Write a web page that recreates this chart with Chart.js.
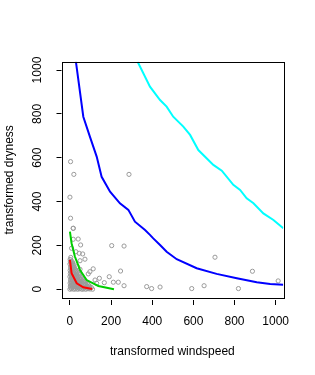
<!DOCTYPE html>
<html>
<head>
<meta charset="utf-8">
<script src="https://cdn.jsdelivr.net/npm/chart.js@4"></script>
<style>
  html, body { margin: 0; padding: 0; background: #fff; }
  #wrap { width: 315px; height: 375px; }
</style>
</head>
<body>
<div id="wrap"><canvas id="myChart" width="315" height="375"></canvas></div>
<script>
var xTicks = [0, 200, 400, 600, 800, 1000];
var yTicks = [0, 200, 400, 600, 800, 1000];

// scattered observations
var outX = [3, 19, 0, 3, 16, 287, 203, 263, 246, 263, 373, 397, 438, 592, 652, 705, 819, 887, 1012,
            16, 40, 52, 29, 45, 62, 49, 73, 113, 97, 89, 143, 191, 211, 235, 167, 122, 130, 16, 8, 36, 49];
var outY = [582, 524, 420, 324, 278, 524, 199, 197, 83, 16, 12, 3, 10, 3, 16, 146, 3, 82, 38,
            278, 229, 202, 171, 164, 161, 130, 137, 93, 80, 70, 50, 57, 32, 32, 30, 42, 27, 228, 187, 103, 91];

// dense cloud near the origin
var cloudX = [0, 8, 18, 27, 38, 47, 58, 66, 77, 88, 98, 110,
              2, 11, 20, 30, 41, 52, 61, 72, 83, 95,
              1, 9, 19, 28, 39, 48, 59, 70, 84,
              3, 12, 22, 31, 42, 53, 64,
              0, 10, 20, 29, 40, 50,
              2, 11, 21, 32, 44,
              1, 9, 19, 28,
              3, 12, 22,
              0, 8, 16,
              2, 10,
              4];
var cloudY = [0, 2, 0, 1, 0, 2, 0, 1, 0, 2, 1, 0,
              14, 15, 13, 14, 15, 13, 14, 15, 13, 14,
              28, 29, 27, 28, 29, 27, 28, 29, 27,
              43, 42, 44, 43, 42, 44, 43,
              57, 58, 56, 57, 58, 56,
              72, 71, 73, 72, 71,
              86, 87, 85, 86,
              100, 101, 99,
              115, 114, 116,
              128, 127,
              145];
var cloud2X = [4, 13, 23, 33, 43, 52, 62, 71, 82, 93, 104,
               6, 15, 25, 35, 46, 56, 66, 77, 89,
               5, 14, 24, 34, 44, 54, 65, 76,
               7, 16, 26, 36, 47, 58,
               5, 15, 25, 35, 46,
               6, 16, 26, 37,
               5, 14, 24,
               6, 16,
               4, 13,
               1];
var cloud2Y = [7, 8, 6, 7, 8, 6, 7, 8, 6, 7, 8,
               21, 22, 20, 21, 22, 20, 21, 22, 20,
               35, 36, 34, 35, 36, 34, 35, 36,
               50, 49, 51, 50, 49, 51,
               64, 65, 63, 64, 65,
               79, 78, 80, 79,
               93, 94, 92,
               107, 108,
               121, 120,
               136];

var blueX = [29, 65, 97, 130, 154, 195, 243, 284, 316, 365, 389, 405, 438, 470, 519, 616, 713, 811, 908, 973, 1037];
var blueY = [1038, 787, 696, 605, 513, 445, 392, 362, 308, 270, 248, 232, 202, 171, 137, 96, 70, 50, 32, 24, 20];

var cyanX = [329, 389, 438, 470, 502, 551, 584, 624, 697, 738, 794, 827, 859, 892, 940, 989, 1037];
var cyanY = [1038, 924, 863, 833, 787, 742, 704, 635, 567, 541, 476, 453, 415, 392, 346, 316, 278];

var redX = [0, 8, 33, 65, 108];
var redY = [134, 73, 27, 9, 1];

var greenX = [0, 8, 24, 49, 81, 138, 214];
var greenY = [263, 210, 149, 88, 42, 15, 0];

function pts(xs, ys) {
    return xs.map(function (x, i) { return { x: x, y: ys[i] }; });
}

function curve(xs, ys, color) {
    return {
        data: pts(xs, ys),
        showLine: true,
        borderColor: color,
        borderWidth: 2,
        pointRadius: 0,
        tension: 0,
        order: 1
    };
}

var boxPlugin = {
    id: 'box',
    afterDatasetsDraw: function (chart) {
        var a = chart.chartArea;
        var c = chart.ctx;
        c.save();
        c.strokeStyle = '#000';
        c.lineWidth = 1;
        c.strokeRect(Math.round(a.left) + 0.5, Math.round(a.top) + 0.5,
            Math.round(a.right - a.left), Math.round(a.bottom - a.top));
        c.restore();
    }
};

var font = { family: "'Liberation Sans', Arial, sans-serif", size: 12 };
var plain = function (v) { return String(v); };

var ctx = document.getElementById('myChart').getContext('2d');
var myChart = new Chart(ctx, {
    type: 'scatter',
    data: {
        datasets: [
            curve(blueX, blueY, '#0000ff'),
            curve(cyanX, cyanY, '#00ffff'),
            curve(redX, redY, '#ff0000'),
            curve(greenX, greenY, '#00cd00'),
            {
                data: pts(cloudX.concat(cloud2X, outX), cloudY.concat(cloud2Y, outY)),
                pointStyle: 'circle',
                pointRadius: 2.1,
                borderWidth: 1,
                borderColor: '#9a9a9a',
                backgroundColor: 'rgba(0,0,0,0)',
                order: 2
            }
        ]
    },
    options: {
        responsive: false,
        animation: false,
        events: [],
        layout: { padding: { left: 0, right: 31.7, top: 61.7, bottom: 0 } },
        plugins: { legend: { display: false }, tooltip: { enabled: false } },
        scales: {
            x: {
                type: 'linear',
                min: -41,
                max: 1037,
                border: { display: false },
                grid: {
                    drawOnChartArea: false,
                    tickLength: 7,
                    tickColor: '#000',
                    tickWidth: 1,
                    tickBorderDash: [5, 100],
                    tickBorderDashOffset: 103
                },
                afterBuildTicks: function (s) { s.ticks = xTicks.map(function (v) { return { value: v }; }); },
                afterFit: function (s) { s.height = 77; },
                ticks: { color: '#000', font: font, padding: 9, maxRotation: 0, callback: plain },
                title: { display: true, text: 'transformed windspeed', color: '#000', font: font, padding: { top: 0, bottom: 16 } }
            },
            y: {
                type: 'linear',
                min: -40,
                max: 1038,
                border: { display: false },
                grid: {
                    drawOnChartArea: false,
                    tickLength: 7,
                    tickColor: '#000',
                    tickWidth: 1,
                    tickBorderDash: [5, 100],
                    tickBorderDashOffset: 103
                },
                afterBuildTicks: function (s) { s.ticks = yTicks.map(function (v) { return { value: v }; }); },
                afterFit: function (s) { s.width = 61.5; },
                ticks: { color: '#000', font: font, padding: 3, minRotation: 90, maxRotation: 90, crossAlign: 'center', callback: plain },
                title: { display: true, text: 'transformed dryness', color: '#000', font: font, padding: { top: 2, bottom: 0 } }
            }
        }
    },
    plugins: [boxPlugin]
});
</script>
</body>
</html>
